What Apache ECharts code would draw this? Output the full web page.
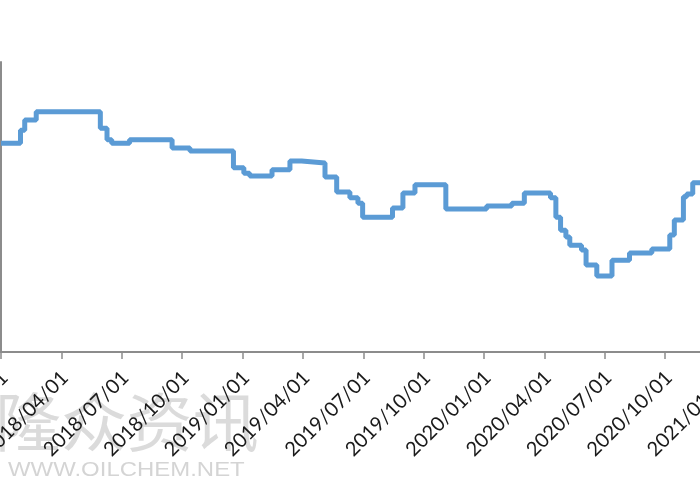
<!DOCTYPE html>
<html>
<head>
<meta charset="utf-8">
<script src="https://cdn.jsdelivr.net/npm/echarts@6/dist/echarts.min.js"></script>
<style>
html,body{margin:0;padding:0;width:700px;height:500px;overflow:hidden;background:#fff;position:relative;}
#c{position:absolute;left:-100px;top:0;width:1000px;height:500px;}
</style>
</head>
<body>
<div id="c"></div>
<script>
// Step-change points of the price series (date the new level starts, level)
const dates = ["2018/01/01","2018/01/31","2018/02/06","2018/02/22","2018/05/30","2018/06/09","2018/06/16","2018/07/13","2018/09/16","2018/10/13","2018/12/18","2019/01/03","2019/01/12","2019/02/14","2019/03/12","2019/03/30","2019/05/04","2019/05/22","2019/06/11","2019/06/23","2019/06/30","2019/08/15","2019/08/31","2019/09/18","2019/11/04","2020/01/05","2020/02/12","2020/03/01","2020/04/10","2020/04/18","2020/04/25","2020/05/03","2020/05/09","2020/05/27","2020/06/03","2020/06/19","2020/07/12","2020/08/08","2020/09/11","2020/10/08","2020/10/15","2020/10/29","2020/11/03","2020/11/12","2020/11/25"];
const prices = [10320,10590,10800,10970,10630,10390,10320,10390,10220,10160,9810,9700,9640,9770,9950,9910,9620,9310,9190,9080,8790,8980,9290,9460,8960,9020,9080,9290,9190,8790,8520,8380,8210,8110,7800,7570,7900,8050,8130,8420,8730,9210,9270,9500,9500];
// x-axis tick labels (quarter starts), month offsets from 2018/01/01 in steps of 3
const tickLabels = ["2018/01/01","2018/04/01","2018/07/01","2018/10/01","2019/01/01","2019/04/01","2019/07/01","2019/10/01","2020/01/01","2020/04/01","2020/07/01","2020/10/01","2021/01/01","2021/04/01"];
const watermarkCN = "隆众资讯";
const watermarkEN = "WWW.OILCHEM.NET";

function toMonth(s){
  const p = s.split('/').map(Number);
  const dim = new Date(p[0], p[1], 0).getDate();
  return (p[0]-2018)*12 + (p[1]-1) + (p[2]-1)/dim;
}
const seriesData = dates.map((d,i)=>[toMonth(d), prices[i]]);

const chart = echarts.init(document.getElementById('c'), null, {renderer:'canvas'});
chart.setOption({
  animation:false,
  backgroundColor:'#ffffff',
  grid:{left:101, top:62, width:785, height:290, containLabel:false},
  graphic:[
    {type:'text', left:95, top:390, z:-10, silent:true, scaleX:1.03,
     style:{text:watermarkCN, font:'64px "Noto Sans CJK SC"', fill:'rgba(160,160,160,0.38)'}},
    {type:'text', left:108, top:460, z:-10, silent:true, scaleX:1.14,
     style:{text:watermarkEN, font:'21px "Liberation Sans"', fill:'rgba(160,160,160,0.45)'}}
  ],
  xAxis:{
    type:'value', min:0, max:39, interval:3,
    splitLine:{show:false},
    axisLine:{show:true, lineStyle:{color:'#8c8c8c', width:2}},
    axisTick:{show:true, length:7, lineStyle:{color:'#8c8c8c', width:1.5}},
    axisLabel:{
      rotate:45, margin:12, verticalAlign:'top', padding:[0,5,0,0],
      color:'#1a1a1a', fontSize:20, fontFamily:'Lato',
      formatter:function(v){ const i = Math.round(v/3); return tickLabels[i] || ''; }
    }
  },
  yAxis:{
    type:'value', min:6000, max:12000, interval:1000,
    splitLine:{show:false},
    axisLine:{show:true, lineStyle:{color:'#8c8c8c', width:2}},
    axisTick:{show:true, length:5, lineStyle:{color:'#8c8c8c'}},
    axisLabel:{color:'#1a1a1a', fontSize:16, margin:10}
  },
  series:[{
    type:'line', step:'end', data:seriesData, showSymbol:false, symbol:'none',
    lineStyle:{color:'#5B9BD5', width:5}, clip:true
  }]
});
</script>
</body>
</html>
